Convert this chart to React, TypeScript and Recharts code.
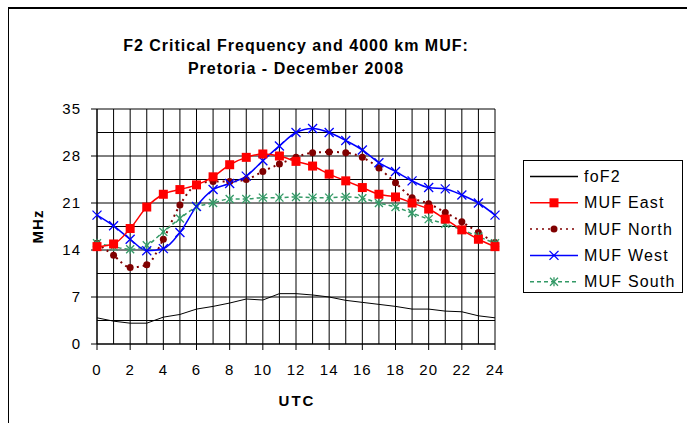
import React from 'react';
import { LineChart, Line, XAxis, YAxis, CartesianGrid } from 'recharts';

const hours = [0, 1, 2, 3, 4, 5, 6, 7, 8, 9, 10, 11, 12, 13, 14, 15, 16, 17, 18, 19, 20, 21, 22, 23, 24];
const foF2 = [3.9, 3.4, 3.1, 3.1, 4.0, 4.4, 5.2, 5.6, 6.1, 6.7, 6.55, 7.5, 7.5, 7.3, 7.0, 6.5, 6.2, 5.9, 5.6, 5.2, 5.2, 4.9, 4.8, 4.2, 3.9];
const mufEast = [14.5, 14.9, 17.2, 20.4, 22.3, 23.0, 23.7, 24.9, 26.7, 27.8, 28.3, 28.0, 27.2, 26.5, 25.3, 24.3, 23.3, 22.3, 21.9, 21.0, 20.1, 18.6, 17.0, 15.6, 14.5];
const mufNorth = [15.0, 13.2, 11.4, 11.8, 15.6, 20.7, 23.7, 24.2, 24.2, 24.5, 25.7, 26.8, 27.8, 28.5, 28.6, 28.5, 27.8, 26.2, 24.0, 21.8, 20.9, 19.6, 18.2, 16.6, 15.1];
const mufWest = [19.2, 17.6, 15.6, 13.9, 14.2, 16.6, 20.5, 23.0, 23.9, 25.0, 27.3, 29.5, 31.5, 32.1, 31.5, 30.3, 28.9, 27.0, 25.7, 24.3, 23.3, 23.1, 22.2, 21.0, 19.2];
const mufSouth = [15.0, 14.5, 14.1, 14.7, 16.7, 18.7, 20.4, 21.0, 21.6, 21.6, 21.8, 21.8, 21.9, 21.8, 21.8, 21.9, 21.7, 21.0, 20.4, 19.5, 18.6, 17.9, 17.0, 16.0, 15.0];

const xTicks = [0, 2, 4, 6, 8, 10, 12, 14, 16, 18, 20, 22, 24];
const yTicks = [0, 7, 14, 21, 28, 35];
const yGrid = [0, 3.5, 7, 10.5, 14, 17.5, 21, 24.5, 28, 31.5, 35];

const data = hours.map((h, i) => ({
  utc: h,
  foF2: foF2[i],
  east: mufEast[i],
  north: mufNorth[i],
  west: mufWest[i],
  south: mufSouth[i],
}));

const FONT = '"Liberation Sans", Arial, sans-serif';

const Square = (p: any) => (
  <rect key={p.index} x={p.cx - 4.5} y={p.cy - 4.5} width={9} height={9} fill="#FF0000" />
);
const Dot = (p: any) => <circle key={p.index} cx={p.cx} cy={p.cy} r={3.5} fill="#800000" />;
const Cross = (p: any) => (
  <g key={p.index} stroke="#0000FF" strokeWidth={1.3}>
    <line x1={p.cx - 4.5} y1={p.cy - 4.5} x2={p.cx + 4.5} y2={p.cy + 4.5} />
    <line x1={p.cx - 4.5} y1={p.cy + 4.5} x2={p.cx + 4.5} y2={p.cy - 4.5} />
  </g>
);
const Star = (p: any) => (
  <g key={p.index} stroke="#339966" strokeWidth={1.3}>
    <line x1={p.cx - 4} y1={p.cy - 4} x2={p.cx + 4} y2={p.cy + 4} />
    <line x1={p.cx - 4} y1={p.cy + 4} x2={p.cx + 4} y2={p.cy - 4} />
    <line x1={p.cx} y1={p.cy - 4.5} x2={p.cx} y2={p.cy + 4.5} />
  </g>
);

const legendItems = [
  { name: 'foF2', color: '#000000', dash: undefined, marker: null },
  { name: 'MUF East', color: '#FF0000', dash: undefined, marker: Square },
  { name: 'MUF North', color: '#800000', dash: '2 4', marker: Dot },
  { name: 'MUF West', color: '#0000FF', dash: undefined, marker: Cross },
  { name: 'MUF South', color: '#339966', dash: '4 3', marker: Star },
];

const LegendBox = () => (
  <svg width={160} height={133} style={{ display: 'block' }}>
    <rect x={0.5} y={0.5} width={159} height={132} fill="#fff" stroke="#000" />
    {legendItems.map((it, i) => {
      const y = 16.5 + i * 26.3;
      return (
        <g key={it.name}>
          <line x1={7} x2={55} y1={y} y2={y} stroke={it.color} strokeWidth={1.5} strokeDasharray={it.dash} />
          {it.marker ? it.marker({ cx: 31, cy: y, index: i }) : null}
          <text x={61} y={y + 5.5} fontSize={16} letterSpacing={1.2} fontFamily={FONT} fill="#000">
            {it.name}
          </text>
        </g>
      );
    })}
  </svg>
);

export default function App() {
  return (
    <div style={{ position: 'fixed', left: 0, top: 0, width: 687, height: 423, overflow: 'hidden', background: '#fff' }}>
      <div
        style={{
          position: 'absolute',
          left: 8,
          top: 7,
          width: 800,
          height: 600,
          borderTop: '2px solid #000',
          borderLeft: '1px solid #000',
        }}
      />
      <div
        style={{
          position: 'absolute',
          left: 0,
          width: 592,
          top: 34,
          textAlign: 'center',
          fontFamily: FONT,
          fontWeight: 'bold',
          fontSize: 16,
          letterSpacing: 1,
          lineHeight: '23px',
          color: '#000',
        }}
      >
        <div>F2 Critical Frequency and 4000 km MUF:</div>
        <div>Pretoria - December 2008</div>
      </div>
      <div style={{ position: 'absolute', left: 0, top: 0 }}>
        <LineChart
          width={687}
          height={423}
          data={data}
          margin={{ top: 109, right: 192, left: 0, bottom: 29 }}
        >
          <CartesianGrid
            stroke="#000"
            strokeWidth={1}
            horizontalValues={yGrid}
            verticalValues={hours}
            fill="#fff"
          />
          <XAxis
            dataKey="utc"
            type="number"
            domain={[0, 24]}
            ticks={xTicks}
            interval={0}
            height={50}
            tickSize={6}
            tickMargin={14}
            stroke="#000"
            tick={{ fill: '#000', fontSize: 15, fontFamily: FONT, letterSpacing: 1 }}
            label={(props: any) => {
              const vb = props.viewBox;
              return (
                <text
                  x={vb.x + vb.width / 2 + 1}
                  y={vb.y + 62}
                  textAnchor="middle"
                  fontSize={15}
                  fontWeight="bold"
                  letterSpacing={2}
                  fontFamily={FONT}
                  fill="#000"
                >
                  UTC
                </text>
              );
            }}
          />
          <YAxis
            type="number"
            domain={[0, 35]}
            ticks={yTicks}
            interval={0}
            width={97}
            tickSize={6}
            tickMargin={10}
            stroke="#000"
            tick={{ fill: '#000', fontSize: 15, fontFamily: FONT, letterSpacing: 1 }}
            label={(props: any) => {
              const vb = props.viewBox;
              const cx = vb.x + 37;
              const cy = vb.y + vb.height / 2;
              return (
                <text
                  x={cx}
                  y={cy}
                  transform={`rotate(-90 ${cx} ${cy})`}
                  textAnchor="middle"
                  dominantBaseline="central"
                  fontSize={15}
                  fontWeight="bold"
                  letterSpacing={1}
                  fontFamily={FONT}
                  fill="#000"
                >
                  MHz
                </text>
              );
            }}
          />
          <Line type="linear" dataKey="foF2" name="foF2" stroke="#000" strokeWidth={1} dot={false} isAnimationActive={false} />
          <Line type="monotone" dataKey="north" name="MUF North" stroke="#800000" strokeWidth={2} strokeDasharray="2 4" dot={Dot} isAnimationActive={false} />
          <Line type="monotone" dataKey="south" name="MUF South" stroke="#339966" strokeWidth={1.5} strokeDasharray="4 3" dot={Star} isAnimationActive={false} />
          <Line type="monotone" dataKey="west" name="MUF West" stroke="#0000FF" strokeWidth={1.5} dot={Cross} isAnimationActive={false} />
          <Line type="monotone" dataKey="east" name="MUF East" stroke="#FF0000" strokeWidth={1.5} dot={Square} isAnimationActive={false} />
        </LineChart>
      </div>
      <div style={{ position: 'absolute', left: 523, top: 160 }}>
        <LegendBox />
      </div>
    </div>
  );
}
